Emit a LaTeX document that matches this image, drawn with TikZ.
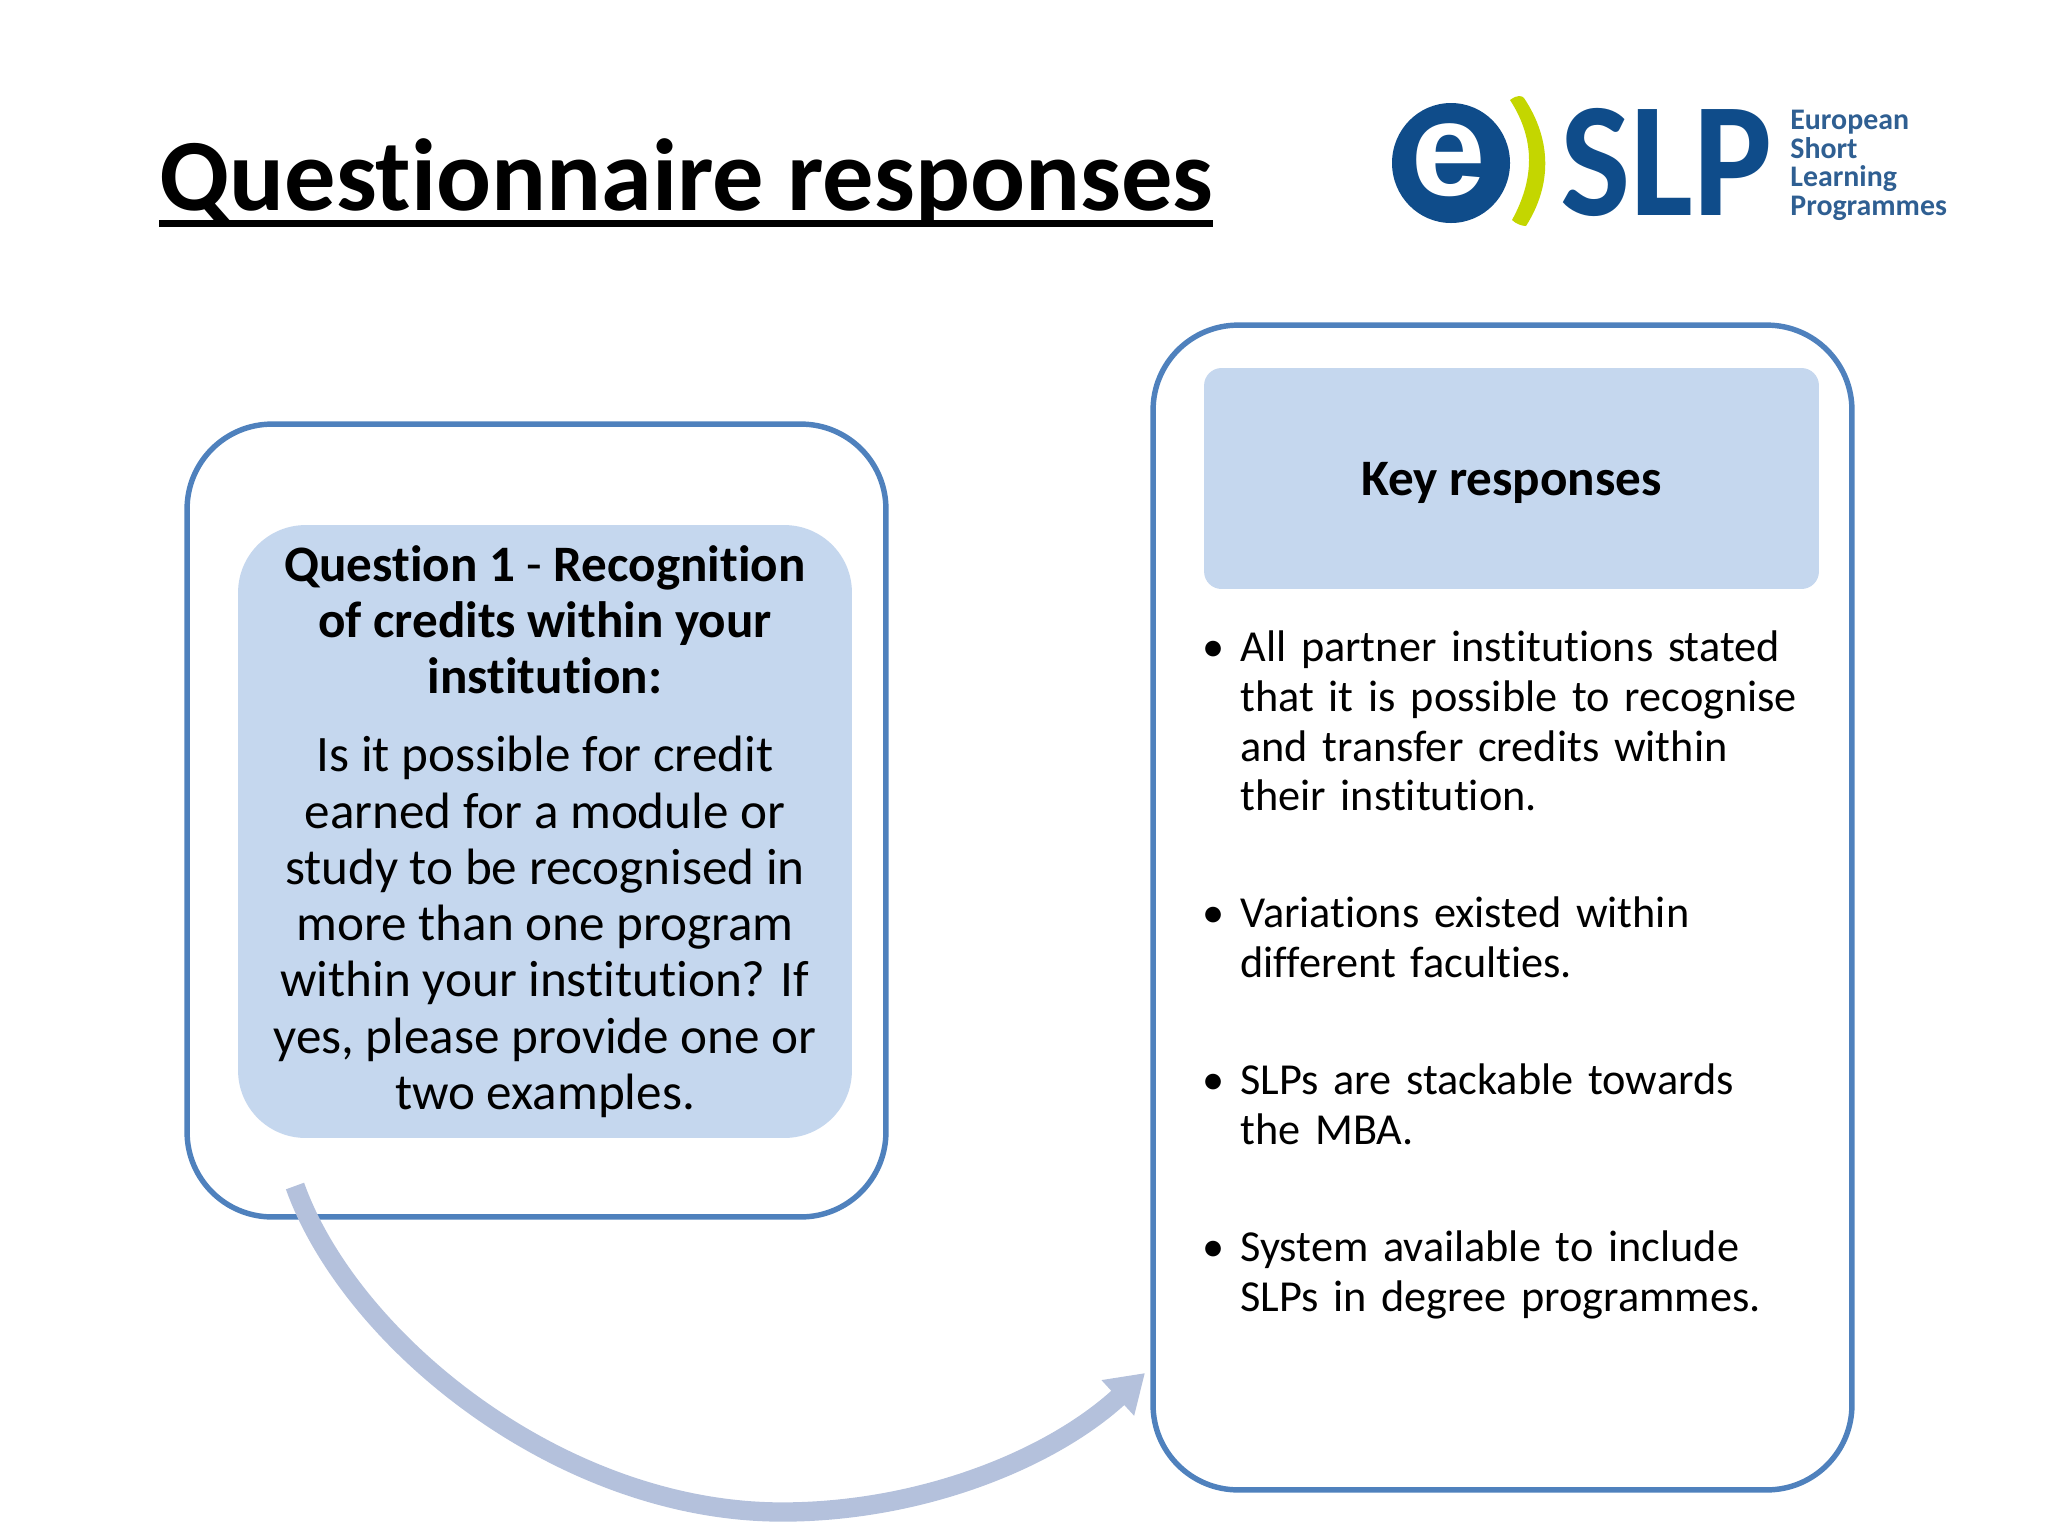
\documentclass[tikz,border=0pt]{standalone}
\usepackage{fontspec}
\usetikzlibrary{arrows.meta}
\setmainfont[Ligatures=NoCommon]{Carlito}
\newfontfamily\logofont{Liberation Sans}
\definecolor{boxline}{HTML}{4F81BD}
\definecolor{boxfill}{HTML}{C5D7EE}
\definecolor{arrowfill}{HTML}{B4C1DC}
\definecolor{logoblue}{HTML}{0F4C8A}
\definecolor{logotext}{HTML}{2F5F92}
\definecolor{logolime}{HTML}{C4D600}
\newcommand{\titleuline}[1]{\sbox0{#1}\rlap{\rule[-9.4pt]{\wd0}{3.6pt}}\usebox0}

\begin{document}
\begin{tikzpicture}[x=0.02cm,y=-0.02cm,
	outerbox/.style={draw=boxline,line width=3.1pt,fill=white,rounded corners=1.7cm,inner sep=0pt},
	innerbox/.style={fill=boxfill,inner sep=0pt,align=center,font=\fontsize{29.1}{32}\selectfont},
	logotxt/.style={text=logotext,font=\bfseries\fontsize{17}{16.2}\selectfont,align=left,anchor=north west,inner sep=0pt}]
	\useasboundingbox (0,0) rectangle (2048,1536);

	\node[inner sep=0pt,anchor=base west,font=\bfseries\fontsize{58.3}{60}\selectfont] (title) at (159,210) {\titleuline{Questionnaire responses}};

	\fill[logoblue] (1451,163) ellipse [x radius=59,y radius=60];
	\node[inner sep=0pt,text=white,font=\logofont\bfseries\fontsize{76}{76}\selectfont] (logoe) at (1449,160) {e};
	\fill[logolime] (1510,100) .. controls (1518,94) and (1522,96) .. (1524,98) .. controls (1552,140) and (1552,185) .. (1526,226) .. controls (1522,226) and (1516,224) .. (1512,220) .. controls (1534,180) and (1536,140) .. (1510,100) -- cycle;
	\node[inner sep=0pt,anchor=base west,text=logoblue,xscale=0.91,font=\bfseries\fontsize{93}{93}\selectfont] (logoslp) at (1560,215) {SLP};
	\node[logotxt] (logoname) at (1790,110) {European\\Short\\Learning\\Programmes};

	\node[outerbox,minimum width=13.98cm,minimum height=15.86cm] (leftbox) at (536.5,820.5) {};
	\node[innerbox,rounded corners=1.35cm,minimum width=12.28cm,minimum height=12.26cm] (question) at (545,831.5) {%
		\textbf{Question 1 {\mdseries-} Recognition}\\
		\textbf{of credits within your}\\
		\textbf{institution:}\\[12.5pt]
		Is it possible for credit\\
		earned for a module or\\
		study to be recognised in\\
		more than one program\\
		within your institution? If\\
		yes, please provide one or\\
		two examples.};

	\node[outerbox,minimum width=13.98cm,minimum height=23.3cm] (rightbox) at (1502.5,907.5) {};
	\node[innerbox,rounded corners=0.35cm,minimum width=12.3cm,minimum height=4.42cm] (keyhead) at (1511.5,478.5) {\raisebox{-9.4pt}[0pt][0pt]{\textbf{Key responses}}};
	\node[inner sep=0pt,anchor=north west,text width=12.4cm,font=\fontsize{25.2}{28.2}\selectfont] (keylist) at (1204,598) {%
		\setlength{\leftmargini}{20.5pt}
		\setlength{\labelsep}{9pt}
		\begin{itemize}
			\setlength{\itemsep}{38.6pt}
			\setlength{\parsep}{0pt}
			\setlength{\parskip}{0pt}
			\item All partner institutions stated\\that it is possible to recognise\\and transfer credits within\\their institution.
			\item Variations existed within\\different faculties.
			\item SLPs are stackable towards\\the MBA.
			\item System available to include\\SLPs in degree programmes.
		\end{itemize}};

	\coordinate (arrowstart) at (295,1186);
	\coordinate (arrowlow) at (782,1512);
	\coordinate (arrowend) at (1145,1373);
	\draw[arrowfill,line width=11pt,-{Triangle[length=21pt,width=26pt]}] (arrowstart) .. controls (350,1340) and (560,1512) .. (arrowlow) .. controls (920,1512) and (1050,1460) .. (arrowend);
\end{tikzpicture}
\end{document}
